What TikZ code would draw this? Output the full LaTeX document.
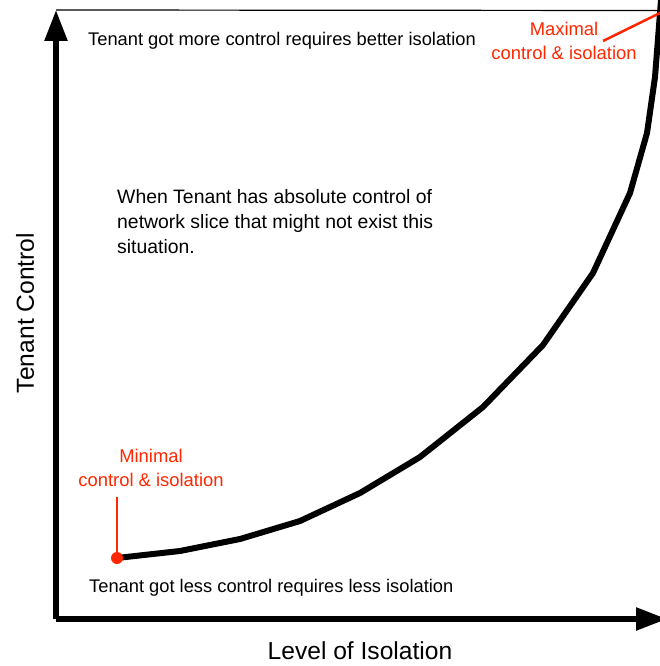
\documentclass[tikz,border=0pt]{standalone}
\usepackage{fontspec}
\setmainfont{Liberation Sans}
\usetikzlibrary{arrows.meta}
\definecolor{appred}{HTML}{FF2600}
\begin{document}
\begin{tikzpicture}[x=1pt,y=-1pt,
  axis/.style={line width=5.5pt,line join=round,-{Triangle[length=31pt,width=22pt]}},
  curveline/.style={line width=6pt,line join=round,line cap=round},
  redline/.style={appred,line width=2.5pt},
  txt/.style={font=\fontsize{18.3}{25}\selectfont,inner sep=0pt},
  midstyle/.style={font=\fontsize{19.4}{25}\selectfont,inner sep=0pt},
  redtxt/.style={font=\fontsize{18.4}{24}\selectfont,text=appred,align=center,inner sep=0pt},
  bigtxt/.style={font=\fontsize{24.6}{28}\selectfont,inner sep=0pt}]
\useasboundingbox (0,0) rectangle (660,666);
\coordinate (origin) at (56,619);
\coordinate (ytip) at (56,10);
\coordinate (xtip) at (667,619);
\coordinate (topend) at (660,10.5);
\draw[line width=1.2pt] (ytip) -- (topend);
\draw[axis] (56,619) -- (ytip);
\draw[axis] (56,619) -- (xtip);
\draw[curveline] (117,558) -- (180,551) -- (240,539) -- (300,521) -- (360,493) -- (420,457) -- (483,407) -- (543,345) -- (593,273) -- (630,193) -- (647,133) -- (655,77) -- (660,13) -- (661,0);
% minimal marker
\coordinate (mintop) at (117,497);
\node[circle,fill=appred,inner sep=0pt,minimum size=12pt] (mindot) at (117,558) {};
\draw[redline] (mintop) -- (mindot.center);
\coordinate (maxa) at (603,41);
\coordinate (maxb) at (662,12);
\draw[redline] (maxa) -- (maxb);
% labels
\node[redtxt] (minlbl) at (151,467.5) {Minimal\\control \& isolation};
\node[redtxt] (maxlbl) at (564,41) {Maximal\\control \& isolation};
\node[txt,anchor=west] (toptxt) at (88,41) {Tenant got more control requires better isolation};
\node[txt,anchor=west] (bottxt) at (89,588) {Tenant got less control requires less isolation};
\node[midstyle,anchor=west,align=left] (midtxt) at (117,222) {When Tenant has absolute control of\\network slice that might not exist this\\situation.};
\node[bigtxt,rotate=90] (ylbl) at (25,313) {Tenant Control};
\node[bigtxt] (xlbl) at (360,651) {Level of Isolation};
\end{tikzpicture}
\end{document}
